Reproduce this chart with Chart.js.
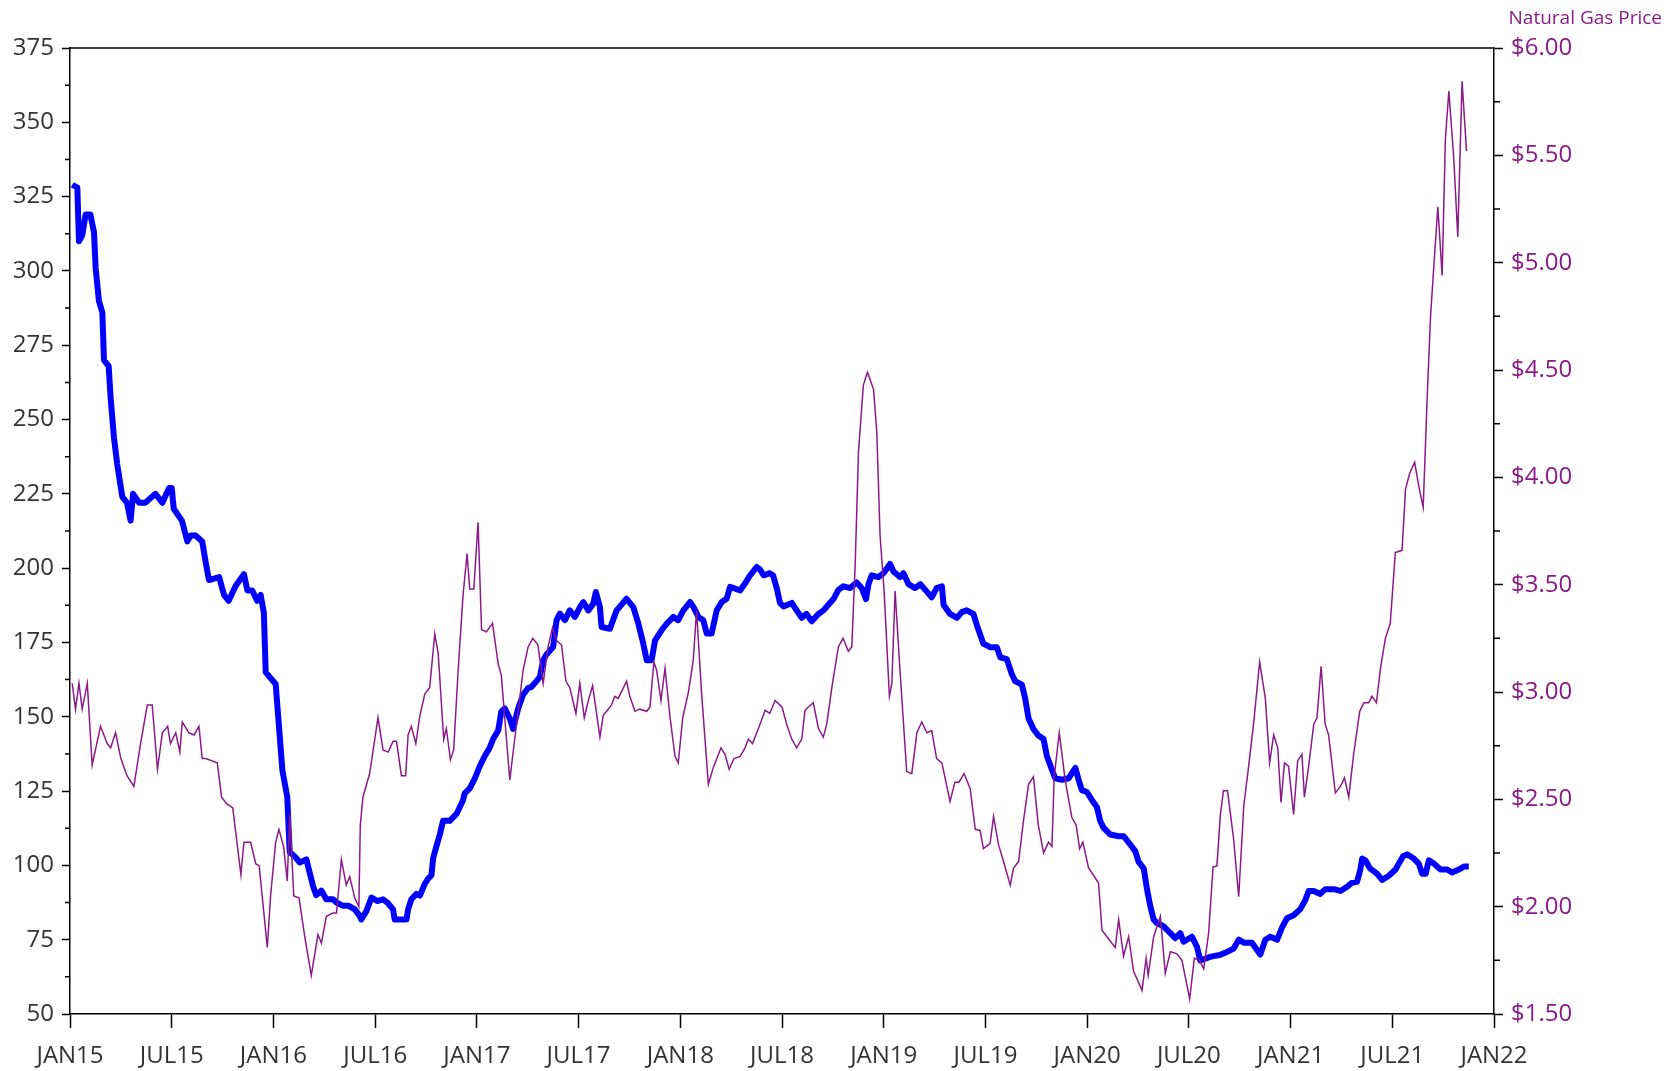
<!DOCTYPE html>
<html>
<head>
<meta charset="utf-8">
<script src="https://cdn.jsdelivr.net/npm/chart.js@4.4.0/dist/chart.umd.min.js"></script>
<style>
  html, body { margin: 0; padding: 0; background: #fff; }
  #wrap { width: 1673px; height: 1071px; }
</style>
</head>
<body>
<div id="wrap"><canvas id="chart" width="1673" height="1071"></canvas></div>
<script>
// x positions are decimal years
const xTickLabels = [`JAN15`, `JUL15`, `JAN16`, `JUL16`, `JAN17`, `JUL17`, `JAN18`, `JUL18`,
	`JAN19`, `JUL19`, `JAN20`, `JUL20`, `JAN21`, `JUL21`, `JAN22`];

// rig count (left axis)
const rigYears = [
	2015.011, 2015.036, 2015.044, 2015.060, 2015.077, 2015.100, 2015.118, 2015.126, 2015.142, 2015.159,
	2015.167, 2015.190, 2015.200, 2015.216, 2015.232, 2015.257, 2015.280, 2015.298, 2015.310, 2015.340,
	2015.370, 2015.420, 2015.454, 2015.487, 2015.500, 2015.510, 2015.550, 2015.577, 2015.593, 2015.617,
	2015.650, 2015.667, 2015.683, 2015.733, 2015.757, 2015.780, 2015.814, 2015.855, 2015.872, 2015.896,
	2015.920, 2015.937, 2015.953, 2015.962, 2015.986, 2016.011, 2016.027, 2016.044, 2016.068, 2016.080,
	2016.109, 2016.129, 2016.162, 2016.195, 2016.210, 2016.236, 2016.260, 2016.293, 2016.310, 2016.342,
	2016.370, 2016.400, 2016.424, 2016.432, 2016.457, 2016.482, 2016.510, 2016.539, 2016.560, 2016.588,
	2016.596, 2016.629, 2016.654, 2016.662, 2016.678, 2016.703, 2016.720, 2016.744, 2016.760, 2016.777,
	2016.785, 2016.801, 2016.818, 2016.834, 2016.867, 2016.900, 2016.932, 2016.940, 2016.965, 2016.990,
	2017.014, 2017.039, 2017.063, 2017.080, 2017.105, 2017.120, 2017.137, 2017.162, 2017.178, 2017.203,
	2017.227, 2017.252, 2017.268, 2017.293, 2017.310, 2017.326, 2017.343, 2017.360, 2017.375, 2017.392,
	2017.408, 2017.433, 2017.457, 2017.482, 2017.507, 2017.523, 2017.548, 2017.572, 2017.585, 2017.605,
	2017.613, 2017.654, 2017.687, 2017.736, 2017.769, 2017.794, 2017.818, 2017.835, 2017.859, 2017.876,
	2017.908, 2017.933, 2017.966, 2017.990, 2018.015, 2018.048, 2018.065, 2018.089, 2018.113, 2018.130,
	2018.154, 2018.179, 2018.204, 2018.228, 2018.245, 2018.270, 2018.294, 2018.318, 2018.343, 2018.376,
	2018.392, 2018.410, 2018.440, 2018.456, 2018.474, 2018.490, 2018.507, 2018.548, 2018.572, 2018.597,
	2018.620, 2018.646, 2018.679, 2018.704, 2018.728, 2018.753, 2018.777, 2018.802, 2018.835, 2018.867,
	2018.892, 2018.913, 2018.925, 2018.941, 2018.974, 2018.999, 2019.031, 2019.048, 2019.080, 2019.097,
	2019.122, 2019.154, 2019.180, 2019.212, 2019.236, 2019.260, 2019.286, 2019.294, 2019.326, 2019.360,
	2019.384, 2019.408, 2019.441, 2019.458, 2019.490, 2019.523, 2019.556, 2019.573, 2019.605, 2019.630,
	2019.646, 2019.679, 2019.695, 2019.712, 2019.736, 2019.760, 2019.786, 2019.802, 2019.827, 2019.843,
	2019.876, 2019.909, 2019.942, 2019.958, 2019.974, 2019.999, 2020.024, 2020.048, 2020.064, 2020.080,
	2020.113, 2020.155, 2020.180, 2020.212, 2020.237, 2020.253, 2020.278, 2020.294, 2020.310, 2020.327,
	2020.343, 2020.376, 2020.409, 2020.433, 2020.458, 2020.474, 2020.515, 2020.540, 2020.556, 2020.580,
	2020.605, 2020.638, 2020.655, 2020.688, 2020.720, 2020.745, 2020.770, 2020.810, 2020.851, 2020.876,
	2020.900, 2020.934, 2020.958, 2020.982, 2021.015, 2021.048, 2021.073, 2021.089, 2021.114, 2021.146,
	2021.171, 2021.212, 2021.245, 2021.278, 2021.300, 2021.327, 2021.343, 2021.352, 2021.368, 2021.390,
	2021.425, 2021.450, 2021.483, 2021.516, 2021.532, 2021.553, 2021.573, 2021.606, 2021.630, 2021.647,
	2021.664, 2021.680, 2021.704, 2021.737, 2021.770, 2021.794, 2021.827, 2021.852, 2021.876];
const rigCounts = [
	329, 328, 310, 312, 319, 319, 313, 301, 290, 286,
	270, 268, 257, 244, 235, 224, 222, 216, 225, 222,
	222, 225, 222, 227, 227, 220, 216, 209, 211, 211,
	209, 202, 196, 197, 191, 189, 194, 198, 192.5, 192.5,
	189, 191, 185, 165, 163, 161, 147, 132, 123, 104.5,
	102.7, 101, 102, 93, 90, 91.5, 88.6, 88.6, 87.5, 86.4,
	86.4, 85.2, 83, 81.8, 84.6, 89.2, 88, 88.6, 87.5, 85.2,
	81.8, 81.8, 81.8, 85.2, 88.6, 90.4, 89.8, 93.8, 95.5, 96.7,
	102.4, 106.4, 110.4, 115, 115, 117.3, 121.9, 124.2, 125.9, 129.3,
	133.3, 136.8, 139.6, 142.5, 145.4, 151.7, 152.8, 149.4, 145.9, 152.8,
	157.4, 159.7, 160, 162, 163.4, 169, 171, 172.3, 173.5, 182.5,
	184.7, 182.5, 185.8, 183.6, 186.9, 188.6, 185.8, 188, 192, 186.9,
	180.2, 179.6, 185.8, 189.7, 186.9, 181.3, 174.6, 169, 169, 175.7,
	179.1, 181.3, 183.6, 182.5, 185.8, 188.6, 186.9, 183.6, 182.5, 178,
	178, 185.8, 188.6, 189.7, 193.7, 193.1, 192.5, 194.8, 197.6, 200.4,
	199.5, 197.6, 198.3, 197.6, 193.3, 188.3, 187.1, 188.3, 185.8, 183.3,
	184.6, 182.1, 184.6, 185.8, 187.7, 189.6, 192.7, 193.9, 193.3, 195.2,
	193.3, 189.6, 194.6, 197.6, 197, 198.3, 201.4, 198.9, 197, 198.3,
	194.6, 193.3, 194.6, 192.1, 190.2, 193.3, 193.9, 187.7, 184.6, 183.3,
	185.2, 185.8, 184.6, 180.8, 174.6, 173.4, 173.4, 170, 169.4, 164.3,
	162, 160.8, 156.3, 149.4, 145.9, 143.7, 142.5, 136.8, 132.2, 129.3,
	128.8, 129.3, 132.8, 128.8, 125.3, 124.7, 121.9, 119.6, 115, 112.7,
	110.4, 109.8, 109.8, 107, 104.7, 101.2, 99, 92.1, 86.4, 81.8,
	80.6, 79.5, 77.2, 75.5, 77.2, 74.3, 76, 72.6, 68, 68.6,
	69.2, 69.7, 69.9, 70.9, 72, 75, 74, 74, 70, 75,
	76, 75, 79.1, 82.2, 83.2, 85.3, 88.4, 91.4, 91.4, 90.4,
	92, 92, 91.4, 92.8, 94.1, 94.5, 98.6, 102.3, 101.7, 99,
	97.2, 95.1, 96.5, 98.6, 100.6, 103.1, 103.7, 102.3, 100.6, 97.2,
	97.2, 101.7, 100.6, 98.6, 98.6, 97.6, 98.6, 99.6, 99.6];

// natural gas price (right axis)
const gasYears = [
	2015.011, 2015.027, 2015.044, 2015.060, 2015.085, 2015.109, 2015.150, 2015.183, 2015.200, 2015.224,
	2015.250, 2015.280, 2015.314, 2015.347, 2015.380, 2015.404, 2015.430, 2015.454, 2015.480, 2015.494,
	2015.520, 2015.540, 2015.552, 2015.585, 2015.610, 2015.634, 2015.650, 2015.667, 2015.724, 2015.745,
	2015.770, 2015.800, 2015.840, 2015.855, 2015.888, 2015.913, 2015.930, 2015.970, 2015.986, 2016.011,
	2016.027, 2016.050, 2016.068, 2016.080, 2016.100, 2016.126, 2016.154, 2016.186, 2016.219, 2016.236,
	2016.260, 2016.293, 2016.310, 2016.334, 2016.358, 2016.375, 2016.400, 2016.420, 2016.427, 2016.440,
	2016.473, 2016.514, 2016.539, 2016.564, 2016.588, 2016.605, 2016.629, 2016.650, 2016.662, 2016.678,
	2016.700, 2016.720, 2016.744, 2016.768, 2016.793, 2016.810, 2016.837, 2016.850, 2016.870, 2016.886,
	2016.908, 2016.932, 2016.952, 2016.965, 2016.985, 2017.006, 2017.023, 2017.047, 2017.077, 2017.105,
	2017.120, 2017.162, 2017.186, 2017.211, 2017.227, 2017.252, 2017.275, 2017.300, 2017.326, 2017.350,
	2017.372, 2017.392, 2017.416, 2017.438, 2017.457, 2017.487, 2017.506, 2017.528, 2017.548, 2017.569,
	2017.605, 2017.621, 2017.646, 2017.662, 2017.678, 2017.695, 2017.736, 2017.752, 2017.777, 2017.800,
	2017.835, 2017.851, 2017.870, 2017.884, 2017.905, 2017.925, 2017.950, 2017.974, 2017.990, 2018.012,
	2018.040, 2018.064, 2018.080, 2018.105, 2018.138, 2018.163, 2018.200, 2018.220, 2018.240, 2018.264,
	2018.294, 2018.318, 2018.335, 2018.355, 2018.376, 2018.392, 2018.417, 2018.440, 2018.466, 2018.500,
	2018.523, 2018.548, 2018.572, 2018.597, 2018.613, 2018.630, 2018.654, 2018.679, 2018.703, 2018.720,
	2018.745, 2018.777, 2018.800, 2018.826, 2018.843, 2018.860, 2018.876, 2018.900, 2018.920, 2018.950,
	2018.966, 2018.982, 2019.002, 2019.028, 2019.040, 2019.056, 2019.080, 2019.113, 2019.138, 2019.163,
	2019.187, 2019.212, 2019.236, 2019.260, 2019.286, 2019.326, 2019.350, 2019.370, 2019.395, 2019.425,
	2019.450, 2019.474, 2019.490, 2019.523, 2019.540, 2019.564, 2019.589, 2019.622, 2019.638, 2019.663,
	2019.687, 2019.712, 2019.736, 2019.760, 2019.786, 2019.810, 2019.827, 2019.838, 2019.863, 2019.892,
	2019.925, 2019.946, 2019.963, 2019.979, 2020.007, 2020.032, 2020.056, 2020.073, 2020.113, 2020.138,
	2020.155, 2020.179, 2020.204, 2020.228, 2020.270, 2020.290, 2020.300, 2020.327, 2020.360, 2020.384,
	2020.409, 2020.442, 2020.466, 2020.504, 2020.527, 2020.553, 2020.573, 2020.597, 2020.619, 2020.638,
	2020.655, 2020.670, 2020.690, 2020.720, 2020.745, 2020.770, 2020.794, 2020.818, 2020.848, 2020.876,
	2020.897, 2020.917, 2020.937, 2020.953, 2020.970, 2020.990, 2021.015, 2021.035, 2021.056, 2021.068,
	2021.089, 2021.114, 2021.130, 2021.150, 2021.170, 2021.187, 2021.220, 2021.245, 2021.265, 2021.286,
	2021.310, 2021.340, 2021.360, 2021.384, 2021.400, 2021.422, 2021.442, 2021.466, 2021.490, 2021.515,
	2021.548, 2021.565, 2021.586, 2021.610, 2021.630, 2021.652, 2021.671, 2021.688, 2021.704, 2021.724,
	2021.745, 2021.761, 2021.778, 2021.802, 2021.822, 2021.843, 2021.865];
const gasPrices = [
	3.04, 2.92, 3.04, 2.92, 3.04, 2.66, 2.84, 2.76, 2.74, 2.81,
	2.69, 2.61, 2.56, 2.76, 2.94, 2.94, 2.64, 2.81, 2.84, 2.76,
	2.81, 2.72, 2.86, 2.81, 2.80, 2.84, 2.69, 2.69, 2.67, 2.51,
	2.48, 2.46, 2.15, 2.30, 2.30, 2.20, 2.19, 1.81, 2.05, 2.30,
	2.36, 2.28, 2.12, 2.43, 2.05, 2.04, 1.86, 1.68, 1.87, 1.83,
	1.955, 1.97, 1.97, 2.22, 2.10, 2.14, 2.04, 2.00, 2.38, 2.51,
	2.62, 2.88, 2.73, 2.72, 2.77, 2.77, 2.61, 2.61, 2.80, 2.84,
	2.76, 2.89, 2.99, 3.02, 3.27, 3.18, 2.78, 2.83, 2.685, 2.73,
	3.10, 3.45, 3.645, 3.48, 3.48, 3.79, 3.29, 3.28, 3.32, 3.13,
	3.08, 2.59, 2.78, 2.97, 3.10, 3.21, 3.25, 3.22, 3.04, 3.21,
	3.30, 3.24, 3.22, 3.05, 3.02, 2.90, 3.04, 2.88, 2.96, 3.03,
	2.79, 2.89, 2.92, 2.94, 2.98, 2.97, 3.05, 2.98, 2.91, 2.92,
	2.91, 2.93, 3.14, 3.10, 2.96, 3.11, 2.88, 2.70, 2.67, 2.88,
	3.00, 3.15, 3.38, 2.99, 2.57, 2.65, 2.74, 2.71, 2.64, 2.69,
	2.70, 2.74, 2.78, 2.76, 2.81, 2.85, 2.915, 2.90, 2.96, 2.93,
	2.85, 2.78, 2.74, 2.78, 2.915, 2.93, 2.95, 2.83, 2.79, 2.85,
	3.02, 3.21, 3.25, 3.19, 3.21, 3.60, 4.12, 4.43, 4.49, 4.41,
	4.21, 3.73, 3.47, 2.98, 3.04, 3.47, 3.10, 2.63, 2.62, 2.81,
	2.86, 2.81, 2.82, 2.69, 2.67, 2.49, 2.58, 2.58, 2.62, 2.55,
	2.36, 2.355, 2.27, 2.295, 2.42, 2.29, 2.21, 2.10, 2.18, 2.21,
	2.40, 2.57, 2.605, 2.38, 2.25, 2.30, 2.28, 2.605, 2.81, 2.59,
	2.415, 2.38, 2.27, 2.30, 2.18, 2.145, 2.11, 1.89, 1.84, 1.81,
	1.94, 1.77, 1.86, 1.70, 1.61, 1.76, 1.68, 1.86, 1.955, 1.69,
	1.79, 1.78, 1.75, 1.57, 1.76, 1.75, 1.71, 1.875, 2.185, 2.19,
	2.43, 2.54, 2.54, 2.315, 2.046, 2.47, 2.655, 2.85, 3.14, 2.97,
	2.67, 2.80, 2.74, 2.485, 2.67, 2.655, 2.43, 2.68, 2.71, 2.51,
	2.655, 2.85, 2.88, 3.12, 2.85, 2.80, 2.53, 2.56, 2.60, 2.51,
	2.71, 2.91, 2.95, 2.95, 2.98, 2.95, 3.11, 3.25, 3.32, 3.65,
	3.66, 3.945, 4.02, 4.07, 3.96, 3.86, 4.36, 4.75, 4.98, 5.26,
	4.94, 5.575, 5.80, 5.49, 5.12, 5.845, 5.52];

const BLUE = `#0000ff`;
const PURPLE = `#8b1a89`;
const AXIS_FONT = `'Open Sans', 'Noto Sans', sans-serif`;

let toPoints = (xs, ys) => xs.map((x, i) => ({ x: x, y: ys[i] }));

// minor ticks + top frame line + right axis caption
const frameAndMinorTicks = {
	id: `frameAndMinorTicks`,
	afterDraw: (chart) =>
	{
		let ctx = chart.ctx, area = chart.chartArea;
		let yl = chart.scales.y, yr = chart.scales.yPrice;
		ctx.save();
		ctx.strokeStyle = `#000`;
		ctx.lineWidth = 1.5;
		ctx.beginPath();
		ctx.moveTo(area.left, area.top);
		ctx.lineTo(area.right, area.top);
		for (let v = 62.5; v < 375; v += 25)
		{
			let p = yl.getPixelForValue(v);
			ctx.moveTo(area.left - 5, p);
			ctx.lineTo(area.left, p);
		}
		for (let v = 1.75; v < 6; v += 0.5)
		{
			let p = yr.getPixelForValue(v);
			ctx.moveTo(area.right, p);
			ctx.lineTo(area.right + 6, p);
		}
		ctx.stroke();
		ctx.fillStyle = PURPLE;
		ctx.font = `19px ${AXIS_FONT}`;
		ctx.textAlign = `right`;
		ctx.textBaseline = `alphabetic`;
		ctx.fillText(`Natural Gas Price`, 1662, 24);
		ctx.restore();
	},
};

new Chart(document.getElementById(`chart`).getContext(`2d`),
{
	type: `line`,
	data: {
		datasets: [
		{
			label: `Natural Gas Price`,
			data: toPoints(gasYears, gasPrices),
			yAxisID: `yPrice`,
			borderColor: PURPLE,
			borderWidth: 1.5,
			pointRadius: 0,
			tension: 0,
			order: 0,
		},
		{
			label: `Rig Count`,
			data: toPoints(rigYears, rigCounts),
			yAxisID: `y`,
			borderColor: BLUE,
			borderWidth: 6,
			borderJoinStyle: `round`,
			pointRadius: 0,
			tension: 0,
			order: 1,
		},],
	},
	options: {
		responsive: false,
		animation: false,
		layout: { padding: { left: 0, right: 0, top: 48, bottom: 0 } },
		plugins: {
			legend: { display: false },
			tooltip: { enabled: false },
			title: { display: false },
		},
		scales: {
			x: {
				type: `linear`,
				min: 2015,
				max: 2022,
				grid: { drawOnChartArea: false, tickLength: 14, tickColor: `#000`, tickWidth: 1.5 },
				border: { color: `#000`, width: 1.5 },
				ticks: {
					stepSize: 0.5,
					autoSkip: false,
					maxRotation: 0,
					padding: 14,
					color: `#333`,
					font: { family: AXIS_FONT, size: 24 },
					callback: (v) => xTickLabels[Math.round((v - 2015) * 2)],
				},
				afterFit: (s) => { s.height = 57; },
			},
			y: {
				position: `left`,
				min: 50,
				max: 375,
				grid: { drawOnChartArea: false, tickLength: 8, tickColor: `#000`, tickWidth: 1.5 },
				border: { color: `#000`, width: 1.5 },
				ticks: {
					stepSize: 25,
					padding: 8,
					color: `#333`,
					font: { family: AXIS_FONT, size: 24 },
				},
				afterFit: (s) => { s.width = 70; },
			},
			yPrice: {
				position: `right`,
				min: 1.5,
				max: 6,
				grid: { drawOnChartArea: false, tickLength: 9, tickColor: `#000`, tickWidth: 1.5 },
				border: { color: `#000`, width: 1.5 },
				ticks: {
					stepSize: 0.5,
					padding: 8,
					color: PURPLE,
					font: { family: AXIS_FONT, size: 24 },
					callback: (v) => `$` + v.toFixed(2),
				},
				afterFit: (s) => { s.width = 179; },
			},
		},
	},
	plugins: [frameAndMinorTicks],
});
</script>
</body>
</html>
